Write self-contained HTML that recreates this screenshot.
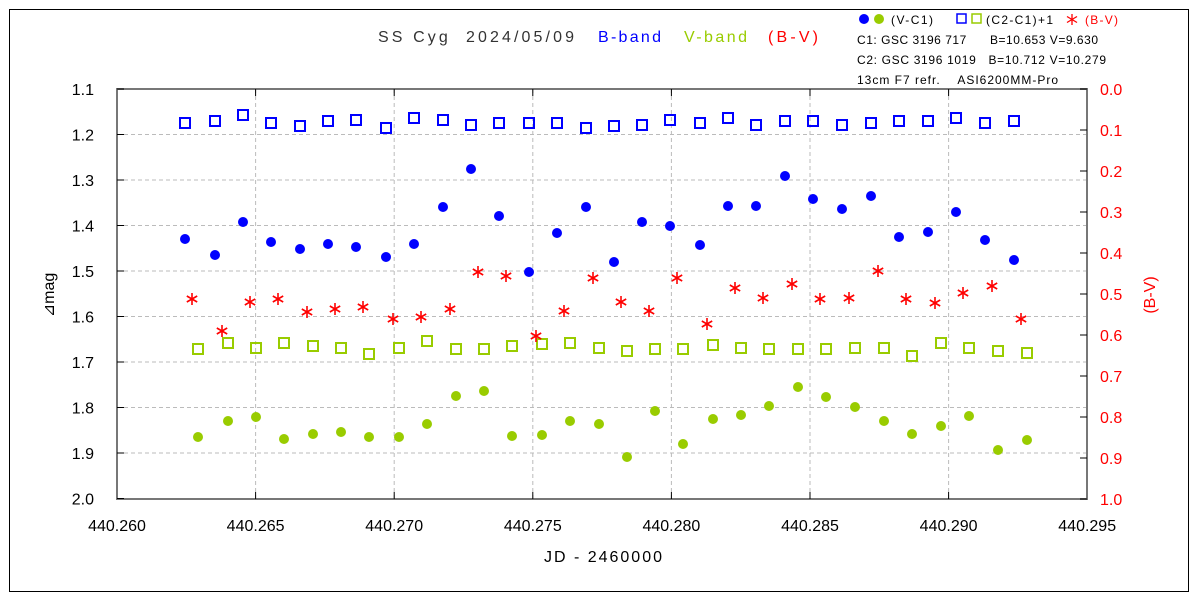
<!DOCTYPE html>
<html><head><meta charset="utf-8"><style>
body{margin:0;background:#fff}
svg{display:block;font-family:"Liberation Sans",sans-serif}
</style></head><body>
<svg id="s" width="1200" height="600" xmlns="http://www.w3.org/2000/svg">
<rect x="0" y="0" width="1200" height="600" fill="#fff"/>
<rect x="9.5" y="9.5" width="1179" height="582" fill="none" stroke="#000" stroke-width="1"/>
<g id="grid" stroke="#bbb" stroke-dasharray="4,3" stroke-width="1"></g>
<rect x="117" y="89" width="970" height="410" fill="none" stroke="#777" stroke-width="2"/>
<g id="ticks" stroke="#000" stroke-width="1"></g>
<g id="labels" font-size="16" fill="#000"></g>
<g id="data"></g>
<text x="378" y="42" font-size="16" fill="#333" textLength="196" lengthAdjust="spacing" xml:space="preserve">SS Cyg  2024/05/09</text>
<text x="598" y="42" font-size="16" fill="#0000ff" textLength="63" lengthAdjust="spacing">B-band</text>
<text x="684" y="42" font-size="16" fill="#99cc00" textLength="63" lengthAdjust="spacing">V-band</text>
<text x="768" y="42" font-size="16" fill="#ff0000" textLength="50" lengthAdjust="spacing">(B-V)</text>
<circle cx="864" cy="19" r="5" fill="#0000ff"/><circle cx="879" cy="19" r="5" fill="#99cc00"/>
<text x="891" y="24" font-size="12" textLength="42" lengthAdjust="spacing">(V-C1)</text>
<rect x="957" y="14" width="9" height="9" fill="none" stroke="#0000ff" stroke-width="1.5"/>
<rect x="972" y="14" width="9" height="9" fill="none" stroke="#99cc00" stroke-width="1.5"/>
<text x="986" y="24" font-size="12" textLength="67" lengthAdjust="spacing">(C2-C1)+1</text>
<g stroke="#ff0000" stroke-width="1.3"><line x1="1072" y1="14" x2="1072" y2="25"/><line x1="1067" y1="16.5" x2="1077" y2="22.5"/><line x1="1067" y1="22.5" x2="1077" y2="16.5"/></g>
<text x="1085" y="24" font-size="12" fill="#ff0000" textLength="33" lengthAdjust="spacing">(B-V)</text>
<text x="857" y="44" font-size="12" textLength="241" lengthAdjust="spacing" xml:space="preserve">C1: GSC 3196 717      B=10.653 V=9.630</text>
<text x="857" y="64" font-size="12" textLength="249" lengthAdjust="spacing" xml:space="preserve">C2: GSC 3196 1019   B=10.712 V=10.279</text>
<text x="857" y="84" font-size="12" textLength="201" lengthAdjust="spacing" xml:space="preserve">13cm F7 refr.    ASI6200MM-Pro</text>
<text x="603" y="562" font-size="16" text-anchor="middle" textLength="118" lengthAdjust="spacing">JD - 2460000</text>
<text transform="translate(54,295) rotate(-90)" font-size="16" text-anchor="middle">⊿mag</text>
<text transform="translate(1155,295) rotate(-90)" font-size="16" text-anchor="middle" fill="#ff0000">(B-V)</text>
</svg>
<script>
var NS="http://www.w3.org/2000/svg";
function el(p,t,a,txt){var e=document.createElementNS(NS,t);for(var k in a)e.setAttribute(k,a[k]);if(txt!=null)e.textContent=txt;document.getElementById(p).appendChild(e);return e;}
var X0=117,DX=138.6,Y0=89,DY=45.5,RY=41;
for(var i=0;i<=9;i++){var y=Y0+i*DY;
 if(i>0&&i<9)el("grid","line",{x1:117,x2:1087,y1:y,y2:y});
 el("ticks","line",{x1:117,x2:124,y1:y,y2:y});
 el("labels","text",{x:94,y:y+6,"text-anchor":"end"},(1.1+i*0.1).toFixed(1));}
for(var i=0;i<=10;i++){var y=Y0+i*RY;
 el("ticks","line",{x1:1080,x2:1087,y1:y,y2:y});
 el("labels","text",{x:1100,y:y+6,fill:"#ff0000"},(i*0.1).toFixed(1));}
for(var i=0;i<=7;i++){var x=X0+i*DX;
 if(i>0&&i<7){el("grid","line",{x1:x,x2:x,y1:89,y2:499});
 el("ticks","line",{x1:x,x2:x,y1:89,y2:96});el("ticks","line",{x1:x,x2:x,y1:492,y2:499});}
 el("labels","text",{x:x,y:531,"text-anchor":"middle"},(440.26+i*0.005).toFixed(3));}
var xb=[185,215,243,271,300,328,356,386,414,443,471,499,529,557,586,614,642,670,700,728,756,785,813,842,871,899,928,956,985,1014];
var bs=[123,121,115,123,126,121,120,128,118,120,125,123,123,123,128,126,125,120,123,118,125,121,121,125,123,121,121,118,123,121];
var bd=[239,255,222,242,249,244,247,257,244,207,169,216,272,233,207,262,222,226,245,206,206,176,199,209,196,237,232,212,240,260];
var gd=[437,421,417,439,434,432,437,437,424,396,391,436,435,421,424,457,411,444,419,415,406,387,397,407,421,434,426,416,450,440];
var gs=[349,343,348,343,346,348,354,348,341,349,349,346,344,343,348,351,349,349,345,348,349,349,349,348,348,356,343,348,351,353];
var rs=[299,331,302,299,312,309,307,319,317,309,272,276,336,311,278,302,311,278,324,288,298,284,299,298,271,299,303,293,286,319];
for(var i=0;i<30;i++){var x=xb[i];
 el("data","rect",{x:x-5,y:bs[i]-5,width:10,height:10,fill:"none",stroke:"#0000ff","stroke-width":2});
 el("data","circle",{cx:x,cy:bd[i],r:5,fill:"#0000ff"});
 el("data","rect",{x:x+13-5,y:gs[i]-5,width:10,height:10,fill:"none",stroke:"#99cc00","stroke-width":2});
 el("data","circle",{cx:x+13,cy:gd[i],r:5,fill:"#99cc00"});
 var cx=x+7,cy=rs[i];
 for(var a=0;a<3;a++){var an=a*Math.PI/3+Math.PI/2,dx=6*Math.cos(an),dy=6*Math.sin(an);
  el("data","line",{x1:cx-dx,y1:cy-dy,x2:cx+dx,y2:cy+dy,stroke:"#ff0000","stroke-width":1.6});}
}
</script>
</body></html>
